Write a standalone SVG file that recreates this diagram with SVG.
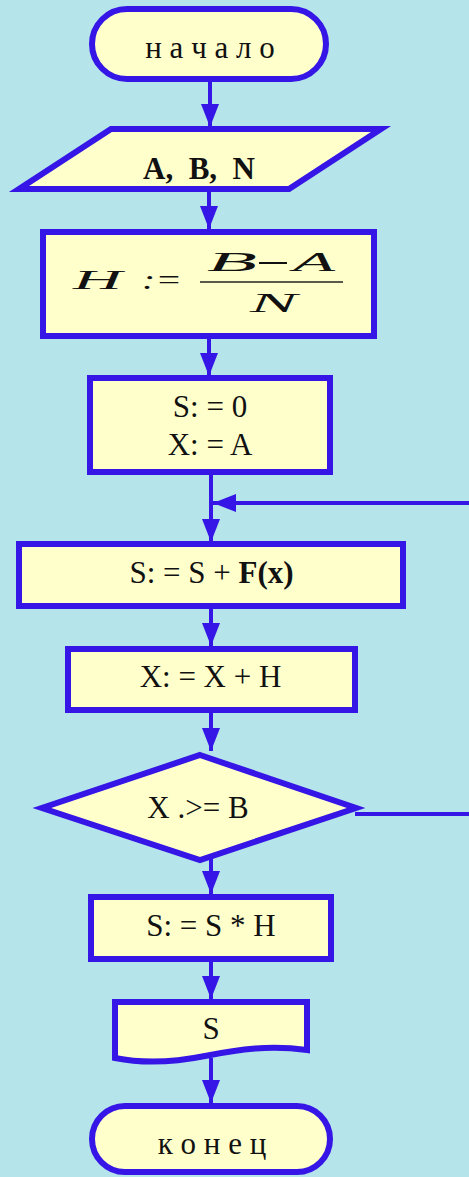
<svg xmlns="http://www.w3.org/2000/svg" width="469" height="1177" viewBox="0 0 469 1177">
<style>
.shape{fill:#ffffcc;stroke:#3516e6;stroke-width:6}
.conn{fill:none;stroke:#3516e6;stroke-width:4}
.t{font-family:"Liberation Serif","Times New Roman",serif;font-size:31px;fill:#111;text-anchor:middle}
.m{font-family:"Liberation Serif","Times New Roman",serif;font-style:italic;font-size:27px;fill:#111}
</style>
<defs>
<marker id="ah" markerUnits="userSpaceOnUse" markerWidth="24" markerHeight="18" refX="23" refY="9" orient="auto">
<path d="M0,0 L23,9 L0,18 Z" fill="#3516e6"/>
</marker>
</defs>
<rect x="0" y="0" width="469" height="1177" fill="#b5e4ea"/>
<g id="connectors">
<line class="conn" x1="210" y1="80" x2="210" y2="127" marker-end="url(#ah)"/>
<line class="conn" x1="209" y1="190" x2="209" y2="229" marker-end="url(#ah)"/>
<line class="conn" x1="209" y1="337" x2="209" y2="376" marker-end="url(#ah)"/>
<line class="conn" x1="211" y1="473" x2="211" y2="542" marker-end="url(#ah)"/>
<polyline class="conn" points="355,814 480,814 480,503 213,503" marker-end="url(#ah)"/>
<line class="conn" x1="211" y1="608" x2="211" y2="646" marker-end="url(#ah)"/>
<line class="conn" x1="211" y1="711" x2="211" y2="751" marker-end="url(#ah)"/>
<line class="conn" x1="211" y1="850" x2="211" y2="894" marker-end="url(#ah)"/>
<line class="conn" x1="211" y1="960" x2="211" y2="999" marker-end="url(#ah)"/>
<line class="conn" x1="211" y1="1058" x2="211" y2="1103" marker-end="url(#ah)"/>
</g>
<g id="start">
<rect class="shape" x="92" y="9" width="234" height="70" rx="35"/>
<text class="t" x="210" y="58">н а ч а л о</text>
</g>
<g id="input">
<polygon class="shape" points="111,129 381,129 289,189 19,189"/>
<text class="t" x="199" y="179" font-weight="bold" font-size="30" style="white-space:pre">A,  B,  N</text>
</g>
<g id="step-h">
<rect class="shape" x="43" y="232" width="331" height="104"/>
<text class="m" x="73" y="289" textLength="49" lengthAdjust="spacingAndGlyphs">H</text>
<text class="m" x="142" y="289" font-style="normal" textLength="40" lengthAdjust="spacingAndGlyphs">:=</text>
<text class="m" x="207" y="271" textLength="50" lengthAdjust="spacingAndGlyphs">B</text>
<line x1="259" y1="263" x2="287" y2="263" stroke="#111" stroke-width="2"/>
<text class="m" x="293" y="271" textLength="42" lengthAdjust="spacingAndGlyphs">A</text>
<line x1="200" y1="282" x2="343" y2="282" stroke="#222" stroke-width="1.5"/>
<text class="m" x="250" y="312" textLength="47" lengthAdjust="spacingAndGlyphs">N</text>
</g>
<g id="init">
<rect class="shape" x="90" y="378" width="240" height="94"/>
<text class="t" x="210" y="417">S: = 0</text>
<text class="t" x="210" y="455">X: = A</text>
</g>
<g id="sum">
<rect class="shape" x="19" y="544" width="384" height="62"/>
<text class="t" x="211.5" y="583">S: = S + <tspan font-weight="bold">F(x)</tspan></text>
</g>
<g id="inc">
<rect class="shape" x="68" y="649" width="287" height="61"/>
<text class="t" x="210.5" y="687">X: = X + H</text>
</g>
<g id="cond">
<polygon class="shape" points="200,755 356,808 200,860 42,808"/>
<text class="t" x="198" y="818">X .&gt;= B</text>
</g>
<g id="mult">
<rect class="shape" x="91" y="897" width="240" height="62"/>
<text class="t" x="211" y="936">S: = S * H</text>
</g>
<g id="output">
<path class="shape" d="M115,1002 H307 V1050 C270,1045 240,1049 205,1056 C170,1063 140,1063 115,1058 Z"/>
<text class="t" x="211" y="1039">S</text>
</g>
<g id="end">
<rect class="shape" x="92" y="1106" width="238" height="66" rx="33"/>
<text class="t" x="212" y="1154">к о н е ц</text>
</g>
</svg>
